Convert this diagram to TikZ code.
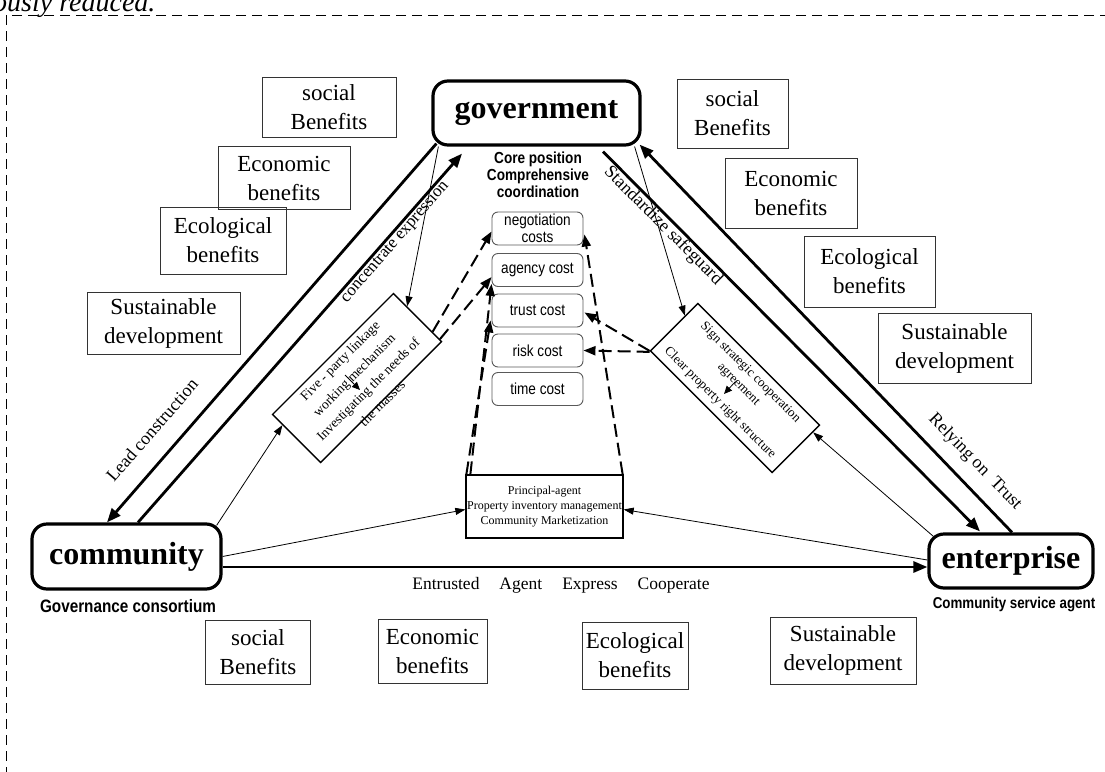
\documentclass[tikz,border=0pt]{standalone}
\usepackage{fontspec}
\setmainfont{Liberation Serif}
\newfontfamily\nsans[FakeStretch=0.85]{Liberation Sans}
\usetikzlibrary{arrows.meta,calc}
\begin{document}
\begin{tikzpicture}[x=1pt,y=-1pt,
 big/.style={draw, line width=3.2pt, rounded corners=15pt, font=\fontsize{32}{36}\selectfont\bfseries, inner sep=0pt},
 ben/.style={draw=black!80, line width=0.9pt, align=center, font=\fontsize{23}{29}\selectfont, inner sep=0pt},
 cost/.style={draw=black!65, line width=0.9pt, rounded corners=6pt, align=center, font=\nsans\fontsize{16}{17}\selectfont, minimum width=91pt, minimum height=33pt, inner sep=0pt},
 rbx/.style={draw, line width=1.3pt, inner sep=0pt},
 thickarrow/.style={line width=2.8pt, -{Triangle[length=14pt,width=11pt]}},
 thinarrow/.style={line width=0.8pt, -{Triangle[length=10pt,width=7pt]}},
 smallarrow/.style={line width=0.8pt, -{Triangle[length=8pt,width=7pt]}},
 dasharrow/.style={line width=2pt, dash pattern=on 13pt off 6pt, -{Triangle[length=12pt,width=9pt]}},
 lbl/.style={font=\fontsize{18}{20}\selectfont, inner sep=0pt},
]
\useasboundingbox (0,0) rectangle (1105,771);
\clip (0,0) rectangle (1105,771);

% fragment and dashed frame
\node[font=\itshape\fontsize{28}{30}\selectfont, anchor=base west, inner sep=0pt] (frag) at (-7,11) {ously reduced.};
\draw[line width=1pt, dash pattern=on 10pt off 6pt] (1110,15) -- (6,15) -- (6,780);

% main actors
\node[big, minimum width=207pt, minimum height=64pt] (gov) at (536.5,113) {government};
\node[big, minimum width=189pt, minimum height=65pt] (com) at (126.5,556.5) {community};
\node[big, minimum width=164pt, minimum height=54pt] (ent) at (1011,561) {enterprise};
\node[font=\nsans\bfseries\fontsize{18}{20}\selectfont, inner sep=0pt] (comlbl) at (128,606) {Governance consortium};
\node[font=\nsans\bfseries\fontsize{15.7}{18}\selectfont, inner sep=0pt] (entlbl) at (1014,604) {Community service agent};
\node[font=\nsans\bfseries\fontsize{16}{17}\selectfont, align=center, inner sep=0pt] (core) at (538,175) {Core position\\Comprehensive\\coordination};

% cost boxes
\node[cost] (neg) at (537.5,228.5) {negotiation\\costs};
\node[cost] (agc) at (537.5,270) {agency cost};
\node[cost] (tru) at (537.5,310.5) {trust cost};
\node[cost] (rsk) at (537.5,350.5) {risk cost};
\node[cost] (tim) at (537.5,389) {time cost};

% bottom centre box
\node[draw, line width=1.3pt, minimum width=157pt, minimum height=63pt, align=center, font=\fontsize{12}{15}\selectfont, inner sep=0pt] (bbox) at (544.5,506.5) {Principal-agent\\Property inventory management\\Community Marketization};

% rotated boxes
\node[rbx, rotate=45, minimum width=171pt, minimum height=68pt] (lbox) at (357,378) {};
\node[rotate=45, align=center, inner sep=0pt, font=\fontsize{13.5}{20}\selectfont] (lboxtxt) at (361,382) {Five - party linkage\\working mechanism\\Investigating the needs of\\the masses};
\node[rbx, rotate=-45, minimum width=172pt, minimum height=67pt] (rbox) at (735,388) {};
\node[rotate=-45, align=center, inner sep=0pt, font=\fontsize{13}{16.5}\selectfont] (rboxtxt) at (735,388) {Sign strategic cooperation\\agreement\\[10pt]Clear property right structure};
\draw[smallarrow] ($(lbox.center)+(-12,-3)$) -- ($(lbox.center)+(3,12)$);
\draw[smallarrow] ($(rbox.center)+(0,-6)$) -- ($(rbox.center)+(-11,6)$);

% benefit boxes - left
\node[ben, minimum width=134pt, minimum height=60pt] (bl1) at (329,107) {social\\Benefits};
\node[ben, minimum width=132pt, minimum height=63pt] (bl2) at (284,178) {Economic\\benefits};
\node[ben, minimum width=126pt, minimum height=67pt] (bl3) at (223,240.5) {Ecological\\benefits};
\node[ben, minimum width=153pt, minimum height=62pt] (bl4) at (163.5,323) {Sustainable\\development};
% right
\node[ben, minimum width=111pt, minimum height=69pt] (br1) at (732.5,113.5) {social\\Benefits};
\node[ben, minimum width=132pt, minimum height=70pt] (br2) at (791,193) {Economic\\benefits};
\node[ben, minimum width=131pt, minimum height=71pt] (br3) at (869.5,271.5) {Ecological\\benefits};
\node[ben, minimum width=153pt, minimum height=70pt] (br4) at (954.5,348) {Sustainable\\development};
% bottom
\node[ben, minimum width=105pt, minimum height=64pt] (bb1) at (258,652) {social\\Benefits};
\node[ben, minimum width=109pt, minimum height=64pt] (bb2) at (432.5,651) {Economic\\benefits};
\node[ben, minimum width=106pt, minimum height=67pt] (bb3) at (635,655.5) {Ecological\\benefits};
\node[ben, minimum width=146pt, minimum height=67pt] (bb4) at (843,650.5) {Sustainable\\development};

% thick connectors
\draw[thickarrow] ($(gov.south west)+(5,-3)$) -- ($(com.north)+(-19.5,0)$);
\draw[thickarrow] ($(com.north)+(11.5,0)$) -- ($(gov.south)+(-74.5,7)$);
\draw[thickarrow] ($(ent.north)+(1,0)$) -- ($(gov.south east)+(-2,-2)$);
\draw[thickarrow] ($(gov.south)+(66.5,5)$) -- ($(ent.north)+(-31,-1)$);
\draw[thickarrow] ($(com.east)+(0,10.5)$) -- ($(ent.west)+(0,6)$);

% thin connectors
\draw[thinarrow] ($(gov.south west)+(7,0)$) -- ($(lbox.north east)!0.28!(lbox.south east)$);
\draw[thinarrow] ($(com.north east)+(-6,3)$) -- ($(lbox.north west)!0.22!(lbox.south west)$);
\draw[thinarrow] (com.east) -- ($(bbox.west)+(0,3)$);
\draw[thinarrow] ($(ent.west)+(0,-1)$) -- ($(bbox.east)+(0,3)$);
\draw[thinarrow] ($(ent.north west)+(6,4)$) -- ($(rbox.north east)!0.15!(rbox.south east)$);
\draw[thinarrow] ($(gov.south east)+(-7,0)$) -- ($(rbox.north west)!0.27!(rbox.south west)$);

% dashed connectors
\draw[dasharrow] ($(lbox.north east)!0.8!(lbox.south east)$) -- ($(neg.west)+(0,3)$);
\draw[dasharrow] ($(lbox.north east)!0.95!(lbox.south east)$) -- ($(agc.west)+(0,7)$);
\draw[dasharrow] ($(bbox.north west)+(1,0)$) -- ($(tru.south west)+(-1,-7)$);
\draw[dasharrow] ($(bbox.north west)+(5,0)$) -- ($(agc.south west)+(0,-3)$);
\draw[dasharrow] ($(bbox.north east)+(-1,0)$) -- ($(neg.east)+(1,6)$);
\draw[dasharrow] (rbox.south west) -- ($(tru.east)+(1,2)$);
\draw[dasharrow] ($(rbox.south west)+(0,1)$) -- (rsk.east);

% labels
\node[lbl, rotate=49] (l1) at (152,430) {Lead construction};
\node[lbl, rotate=49, font=\fontsize{17}{20}\selectfont] (l2) at (395,242) {concentrate expression};
\node[lbl, rotate=-45] (l3) at (663,226) {Standardize safeguard};
\node[lbl, rotate=-46] (l4) at (975,462) {Relying on\ \ Trust};
\node[lbl, font=\fontsize{17.5}{20}\selectfont] (l5) at (561,585) {Entrusted\hspace{20pt}Agent\hspace{20pt}Express\hspace{20pt}Cooperate};
\end{tikzpicture}
\end{document}
